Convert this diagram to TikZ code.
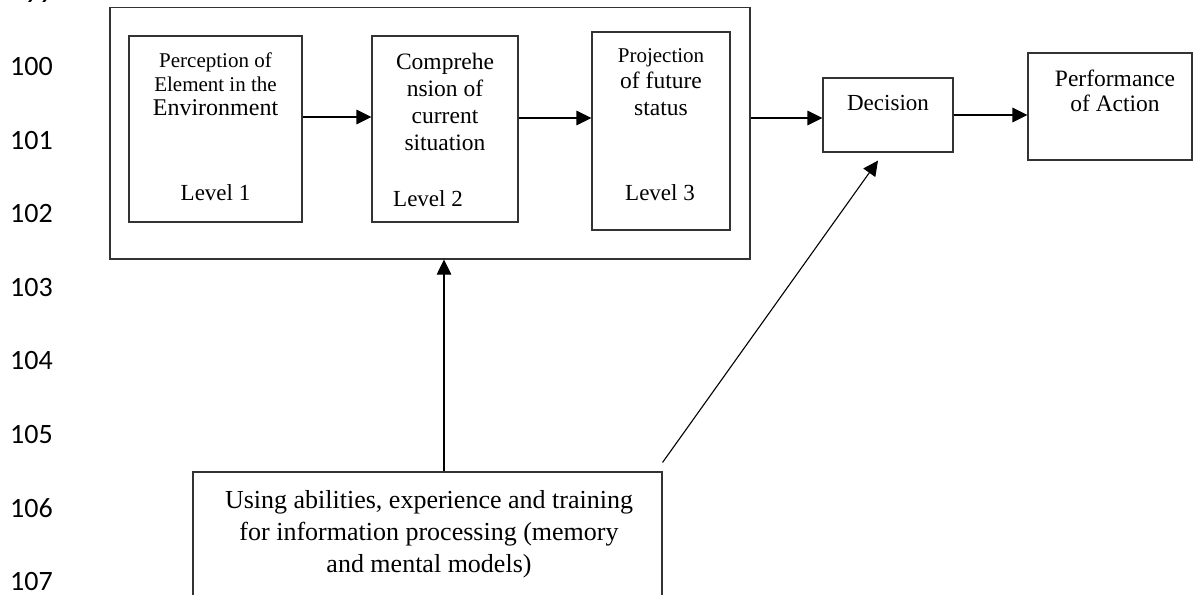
\documentclass[tikz,border=0pt]{standalone}
\usepackage{fontspec}
\setmainfont{Liberation Serif}
\newfontfamily\numfont{Carlito}
\usetikzlibrary{arrows.meta}
\begin{document}
\begin{tikzpicture}[x=1pt,y=-1pt,
  box/.style={draw=black!80,line width=1.1pt,inner sep=0pt},
  txt/.style={align=center,inner sep=0pt},
  lnum/.style={anchor=east,inner sep=0pt,font=\numfont\fontsize{28}{28}\selectfont},
  arr/.style={line width=1.1pt,-{Triangle[length=15pt,width=14.5pt]}}]
\useasboundingbox (0,0) rectangle (1193,594);
\clip (0,0) rectangle (1193,594);
% line numbers
\foreach \n [count=\i from 0] in {99,100,101,102,103,104,105,106,107}
  \node[lnum] (ln\n) at (53,{-6.5+73.5*\i}) {\n};
% outer box
\node[box,minimum width=640,minimum height=251.5] (outer) at (430,133.25) {};
% level boxes
\node[box,minimum width=173,minimum height=186] (p1) at (215.5,129) {};
\node[box,minimum width=146,minimum height=186] (p2) at (445,129) {};
\node[box,minimum width=138,minimum height=198] (p3) at (661,131) {};
\node[box,minimum width=130,minimum height=74] (dec) at (888,115) {};
\node[box,minimum width=164,minimum height=107] (perf) at (1110,106.5) {};
\node[box,minimum width=469,minimum height=200] (use) at (427.5,572) {};
% texts
\node[txt,font=\fontsize{21}{24}\selectfont] (t1) at (215.5,84) {Perception of\\Element in the\\\fontsize{24}{24}\selectfont Environment};
\node[txt,font=\fontsize{23}{24}\selectfont] (l1) at (215.5,193) {Level 1};
\node[txt,font=\fontsize{23.5}{27}\selectfont] (t2) at (445,102) {Comprehe\\nsion of\\current\\situation};
\node[txt,font=\fontsize{23}{24}\selectfont] (l2) at (428,199) {Level 2};
\node[txt,font=\fontsize{23.5}{26.5}\selectfont] (t3) at (661,82) {\fontsize{21}{26.5}\selectfont Projection\\of future\\status};
\node[txt,font=\fontsize{23}{24}\selectfont] (l3) at (660,193) {Level 3};
\node[txt,font=\fontsize{23}{25}\selectfont] (td) at (888,103) {Decision};
\node[txt,font=\fontsize{23.5}{25}\selectfont] (tp) at (1115,90.5) {Performance\\of Action};
\node[txt,font=\fontsize{26}{32}\selectfont] (tu) at (429,534) {Using abilities, experience and training\\for information processing (memory\\and mental models)};
% arrows
\draw[arr] ([yshift=12pt]p1.east) -- ([yshift=12pt]p1.east -| p2.west);
\draw[arr] ([yshift=11pt]p2.east) -- ([yshift=11pt]p2.east -| p3.west);
\draw[arr] ([yshift=-3pt]dec.west -| outer.east) -- ([yshift=-3pt]dec.west);
\draw[arr] (dec.east) -- (dec.east -| perf.west);
\draw[arr] ([xshift=16.5pt]use.north) -- ([xshift=16.5pt]use.north |- outer.south);
\coordinate (ustart) at ([yshift=9pt]use.north east);
\coordinate (dend) at ([shift={(-10pt,-8pt)}]dec.south);
\draw[arr] (ustart) -- (dend);
\end{tikzpicture}
\end{document}
